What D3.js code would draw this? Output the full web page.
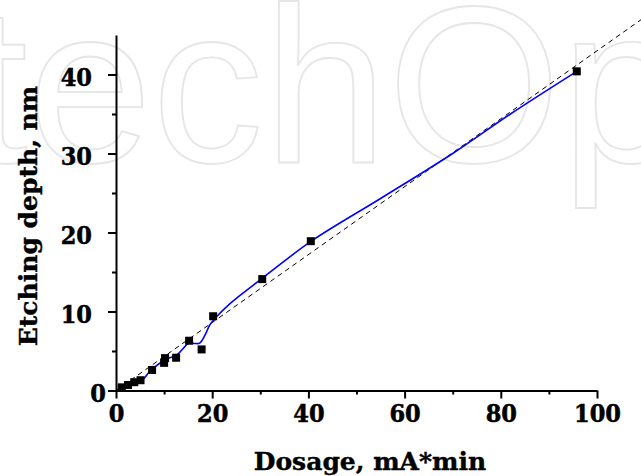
<!DOCTYPE html>
<html>
<head>
<meta charset="utf-8">
<script src="https://cdn.jsdelivr.net/npm/d3@7"></script>
<style>
  body { margin: 0; background: #fff; }
  svg { display: block; }
  .lbl { font-family: "DejaVu Serif Condensed", "DejaVu Serif", serif; font-stretch: condensed; font-weight: bold; fill: #000; stroke: #000; stroke-width: 0.5; }
  .ttl { font-family: "DejaVu Serif", serif; font-weight: bold; fill: #000; stroke: #000; stroke-width: 0.4; }
</style>
</head>
<body>
<div id="chart"></div>
<script>
// measured points
var dosage = [1.2, 2.5, 3.8, 5.1, 7.5, 10.2, 10.0, 12.5, 15.2, 17.8, 20.2, 30.4, 40.5, 95.8];
var depth  = [0.4, 0.7, 1.05, 1.3, 2.6, 4.1, 3.5, 4.15, 6.3, 5.2, 9.4, 14.1, 18.9, 40.4];

// blue smoothed curve
var curveX = [1.2, 3.0, 5.5, 7.0, 10.2, 12.6, 15.2, 16.4, 17.4, 18.5, 19.5, 20.7, 23.7, 30.4, 40.6, 55.0, 70.0, 82.0, 95.8];
var curveY = [0.4, 0.8, 1.35, 2.4, 3.9, 4.5, 6.0, 5.95, 6.0, 7.0, 8.3, 9.2, 11.0, 14.2, 18.9, 24.3, 30.0, 35.0, 40.4];

// dashed linear fit (end points)
var fitX = [0, 110];
var fitY = [0, 47.3];

var xTicks = [0, 20, 40, 60, 80, 100];
var xMinor = [10, 30, 50, 70, 90];
var yTicks = [0, 10, 20, 30, 40];
var yMinor = [5, 15, 25, 35];

var W = 641, H = 476;
var svg = d3.select("#chart").append("svg")
    .attr("width", W)
    .attr("height", H);

// watermark
var wm = svg.append("text")
    .attr("x", 0)
    .attr("y", 162)
    .style("font-family", "'Liberation Sans', Arial, sans-serif")
    .style("font-size", "223px")
    .style("fill", "none")
    .style("stroke", "#e6e6e6")
    .style("stroke-width", 1.8)
    .text("IntechOpen");
var cStart = wm.node().getStartPositionOfChar(4).x;
wm.attr("x", 152 - cStart);

var x = d3.scaleLinear().domain([0, 100]).range([116, 597]);
var y = d3.scaleLinear().domain([0, 45]).range([390.5, 35]);

// dashed fit line
svg.append("path")
    .datum(d3.range(fitX.length))
    .attr("fill", "none")
    .attr("stroke", "#000")
    .attr("stroke-width", 1)
    .attr("stroke-dasharray", "5,4")
    .attr("d", d3.line()
        .x(function (i) { return x(fitX[i]); })
        .y(function (i) { return y(fitY[i]); }));

// blue curve
svg.append("path")
    .datum(d3.range(curveX.length))
    .attr("fill", "none")
    .attr("stroke", "#0000ff")
    .attr("stroke-width", 1.6)
    .attr("d", d3.line()
        .curve(d3.curveCatmullRom.alpha(0.5))
        .x(function (i) { return x(curveX[i]); })
        .y(function (i) { return y(curveY[i]); }));

// squares
var sq = 8;
svg.selectAll("rect.pt")
    .data(d3.range(dosage.length))
    .enter()
    .append("rect")
    .attr("class", "pt")
    .attr("x", function (i) { return x(dosage[i]) - sq / 2; })
    .attr("y", function (i) { return y(depth[i]) - sq / 2; })
    .attr("width", sq)
    .attr("height", sq)
    .attr("fill", "#000");

// x axis
var gx = svg.append("g")
    .attr("transform", "translate(0," + y(0) + ")")
    .call(d3.axisBottom(x).tickValues(xTicks).tickSize(8).tickSizeOuter(0).tickPadding(6));
svg.append("g")
    .attr("transform", "translate(0," + y(0) + ")")
    .call(d3.axisBottom(x).tickValues(xMinor).tickSize(4).tickFormat("").tickSizeOuter(0))
    .select(".domain").remove();

// y axis
var gy = svg.append("g")
    .attr("transform", "translate(" + x(0) + ",0)")
    .call(d3.axisLeft(y).tickValues(yTicks).tickSize(8).tickSizeOuter(0).tickPadding(16));
svg.append("g")
    .attr("transform", "translate(" + x(0) + ",0)")
    .call(d3.axisLeft(y).tickValues(yMinor).tickSize(4).tickFormat("").tickSizeOuter(0))
    .select(".domain").remove();

svg.selectAll(".domain").attr("stroke-width", 2);
svg.selectAll(".tick line").attr("stroke-width", 2);

gx.selectAll(".tick text").attr("class", "lbl").style("font-size", "25px");
gy.selectAll(".tick text").attr("class", "lbl").style("font-size", "25px").attr("dy", "0.42em");
gy.selectAll(".tick text").filter(function (d) { return d === 0; }).attr("dx", 14);
svg.selectAll("g").attr("font-family", null).attr("font-size", null);

// axis titles
svg.append("text")
    .attr("class", "ttl")
    .attr("x", 370)
    .attr("y", 470)
    .style("font-size", "25px")
    .style("text-anchor", "middle")
    .text("Dosage, mA*min");

svg.append("text")
    .attr("class", "ttl")
    .attr("transform", "translate(37,216) rotate(-90)")
    .style("font-size", "25px")
    .style("text-anchor", "middle")
    .text("Etching depth, nm");
</script>
</body>
</html>
